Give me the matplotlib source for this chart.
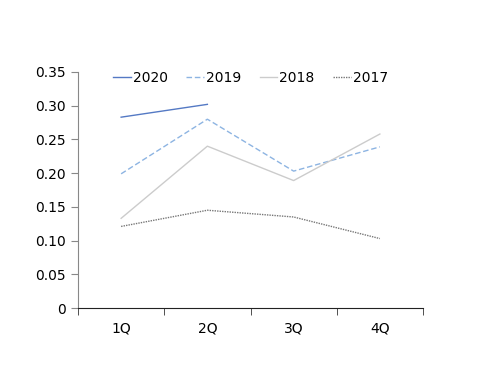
import matplotlib
matplotlib.use('Agg')
import matplotlib.pyplot as plt
import numpy as np

quarters = ['1Q', '2Q', '3Q', '4Q']
y2020 = [0.283, 0.302]
y2019 = [0.199, 0.280, 0.203, 0.239]
y2018 = [0.133, 0.240, 0.189, 0.258]
y2017 = [0.121, 0.145, 0.135, 0.103]
yticks = [0, 0.05, 0.10, 0.15, 0.20, 0.25, 0.30, 0.35]
ylabels = ['0', '0.05', '0.10', '0.15', '0.20', '0.25', '0.30', '0.35']

plt.rcParams['font.family'] = ['DejaVu Sans']

fig = plt.figure(figsize=(5, 3.86), dpi=100)
ax = fig.add_axes([0.156, 0.202, 0.69, 0.6115])

x = np.arange(1, len(quarters) + 1)
ax.plot(x[:len(y2020)], y2020, color='#5479c4', lw=1.0, label='2020')
ax.plot(x, y2019, color='#8db4e2', lw=1.0, ls=(0, (4, 2)), label='2019')
ax.plot(x, y2018, color='#cccccc', lw=1.0, label='2018')
ax.plot(x, y2017, color='#777777', lw=1.0, ls=(0, (1, 0.8)), label='2017')

ax.set_xlim(0.5, 4.5)
ax.set_ylim(0, 0.35)
ax.set_yticks(yticks)
ax.set_yticklabels(ylabels, fontsize=10)
ax.set_xticks(x)
ax.set_xticklabels(quarters, fontsize=10)
ax.set_xticks(np.arange(0.5, 4.6, 1), minor=True)
ax.tick_params(axis='x', which='major', length=0, pad=10)
ax.tick_params(axis='x', which='minor', length=5, color='#333333')
ax.tick_params(axis='y', length=5, color='#888888', pad=4)

for s in ['top', 'right']:
    ax.spines[s].set_visible(False)
ax.spines['left'].set_color('#888888')
ax.spines['bottom'].set_color('#222222')

ax.legend(loc='center', bbox_to_anchor=(0.5, 1 - 6 / 236), ncol=4, frameon=False,
          fontsize=10, handlelength=1.25, handletextpad=0.15, columnspacing=1.35)

fig.savefig('out.png', dpi=100)
